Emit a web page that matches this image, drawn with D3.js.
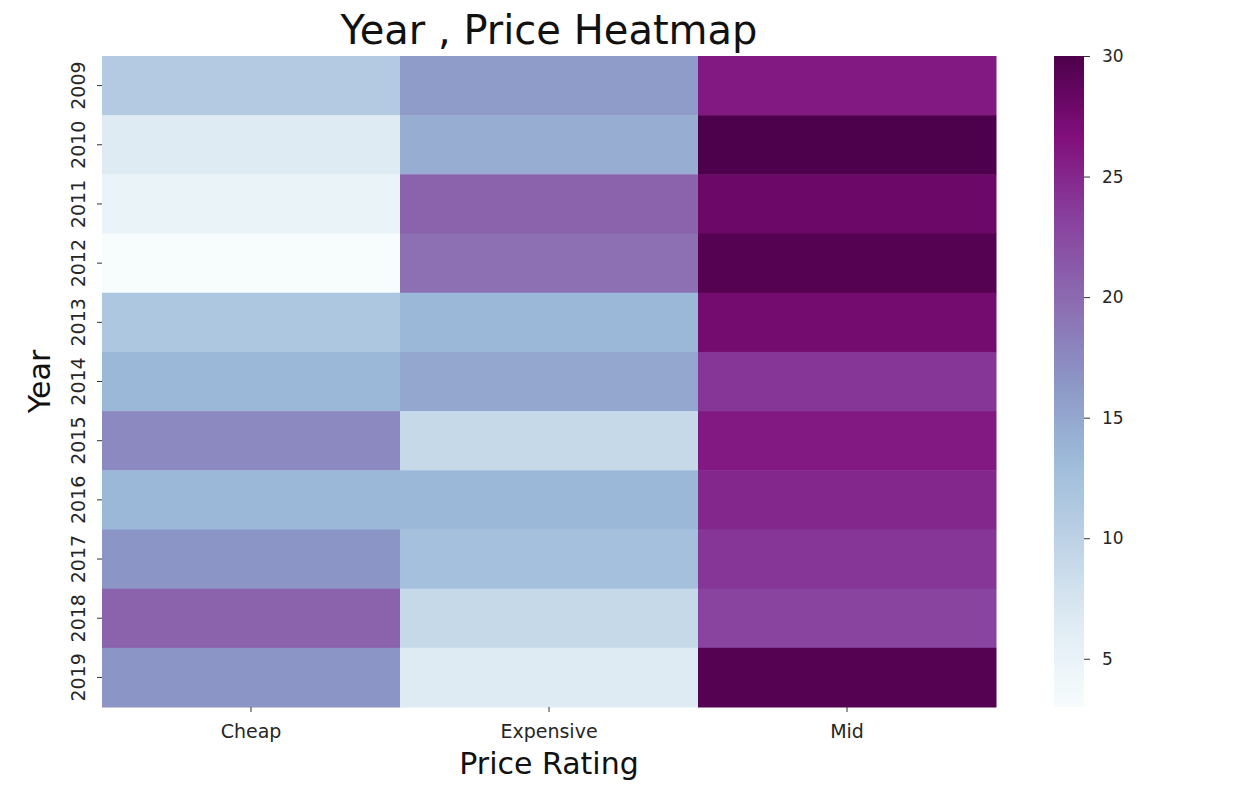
<!DOCTYPE html>
<html><head><meta charset="utf-8">
<script src="https://cdn.jsdelivr.net/npm/d3@7"></script>
<style>body{margin:0;background:#fff;} text{font-family:"DejaVu Sans",sans-serif;}</style>
</head><body>
<svg id="c" width="1240" height="806"></svg>
<script>
const years = ["2009","2010","2011","2012","2013","2014","2015","2016","2017","2018","2019"];
const ratings = ["Cheap","Expensive","Mid"];
const cheap     = [11, 6.5, 5, 3, 11.5, 13.5, 17.5, 13.5, 16.5, 20.5, 16.5];
const expensive = [16, 14.5, 20.5, 19.5, 13.5, 15, 9, 13.5, 12.5, 9, 6.5];
const mid       = [26, 30, 28, 29.5, 27.5, 24, 26, 25, 24, 23, 29.5];
const cbarTicks = [5, 10, 15, 20, 25, 30];
const vmin = 3, vmax = 30;
const bupu = ["#f7fcfd","#e0ecf4","#bfd3e6","#9ebcda","#8c96c6","#8c6bb1","#88419d","#810f7c","#4d004b"];

const series = [cheap, expensive, mid];
const cells = [];
ratings.forEach((r, i) => years.forEach((y, j) => cells.push({r, y, v: series[i][j]})));

const svg = d3.select("#c");
const L = 102, R = 996, T = 56, B = 707;
const x = d3.scaleBand().domain(ratings).range([L, R]);
const y = d3.scaleBand().domain(years).range([T, B]);
const color = d3.scaleLinear()
  .domain(bupu.map((_, i) => vmin + (vmax - vmin) * i / (bupu.length - 1)))
  .range(bupu).clamp(true);

svg.append("g").selectAll("rect").data(cells).join("rect")
  .attr("x", d => x(d.r)).attr("y", d => y(d.y))
  .attr("width", x.bandwidth() + 0.5).attr("height", y.bandwidth() + 0.5)
  .attr("fill", d => color(d.v));

const xAxis = svg.append("g").attr("transform", `translate(0,${B})`)
  .call(d3.axisBottom(x).tickSize(5).tickPadding(4));
xAxis.select(".domain").remove();
xAxis.selectAll("line").attr("stroke", "#333");
xAxis.selectAll("text").attr("font-size", 19).attr("fill", "#262626")
  .attr("font-family", "DejaVu Sans").attr("y", 31).attr("dy", null);

const yAxis = svg.append("g").attr("transform", `translate(${L},0)`)
  .call(d3.axisLeft(y).tickSize(5).tickPadding(4));
yAxis.select(".domain").remove();
yAxis.selectAll("line").attr("stroke", "#333");
yAxis.selectAll(".tick text").attr("font-size", 19).attr("fill", "#262626")
  .attr("font-family", "DejaVu Sans")
  .attr("x", null).attr("y", null).attr("dy", null)
  .attr("text-anchor", "middle")
  .attr("transform", "translate(-17,0) rotate(-90)");

// colorbar
const cbL = 1054, cbW = 30;
const cy = d3.scaleLinear().domain([vmin, vmax]).range([B, T]);
const defs = svg.append("defs");
const grad = defs.append("linearGradient").attr("id", "g").attr("x1", 0).attr("y1", 1).attr("x2", 0).attr("y2", 0);
d3.range(0, 1.0001, 0.025).forEach(t => grad.append("stop").attr("offset", t).attr("stop-color", color(vmin + t * (vmax - vmin))));
svg.append("rect").attr("x", cbL).attr("y", T).attr("width", cbW).attr("height", B - T).attr("fill", "url(#g)");
const cAxis = svg.append("g").attr("transform", `translate(${cbL + cbW},0)`)
  .call(d3.axisRight(cy).tickValues(cbarTicks).tickSize(6).tickPadding(12));
cAxis.select(".domain").remove();
cAxis.selectAll("line").attr("stroke", "#333");
cAxis.selectAll("text").attr("font-size", 17).attr("fill", "#262626").attr("font-family", "DejaVu Sans");

svg.append("text").attr("x", (L + R) / 2).attr("y", 44).attr("text-anchor", "middle")
  .attr("font-size", 40).attr("fill", "#111").text("Year , Price Heatmap");
svg.append("text").attr("x", (L + R) / 2).attr("y", 774).attr("text-anchor", "middle")
  .attr("font-size", 30).attr("fill", "#111").text("Price Rating");
svg.append("text").attr("transform", `translate(50,${(T + B) / 2}) rotate(-90)`).attr("text-anchor", "middle")
  .attr("font-size", 30).attr("fill", "#111").text("Year");
</script>
</body></html>
